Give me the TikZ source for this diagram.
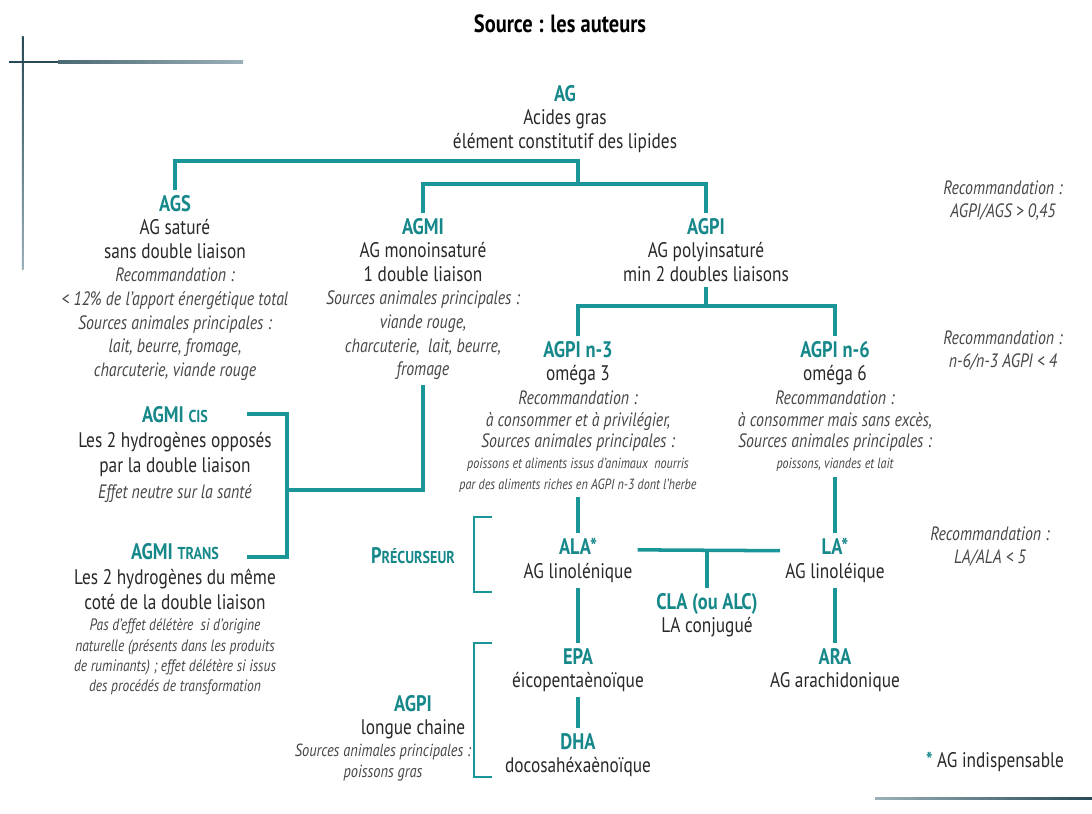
\documentclass[tikz,border=0pt]{standalone}
\usepackage{fontspec}
\setmainfont{PT Sans}[FakeStretch=0.82]
\usepackage{xcolor}
\usepackage{tikz}
\definecolor{agteal}{RGB}{22,136,138}
\definecolor{aglink}{RGB}{26,150,152}
\definecolor{agtext}{RGB}{40,40,40}
\definecolor{agnote}{RGB}{70,70,70}
\definecolor{decodark}{RGB}{40,74,86}
\definecolor{decolight}{RGB}{155,176,184}
\newcommand{\agSkip}{\lineskiplimit=-6pt\relax}
\newcommand{\agHd}{\fontsize{12.8}{13.4}\selectfont\bfseries\color{agteal}}
\newcommand{\agSc}{\fontsize{9.8}{13.4}\selectfont}
\newcommand{\agIt}{\fontsize{11}{13.4}\selectfont\itshape\color{agnote}}
\newcommand{\agMid}{\fontsize{9.4}{13.4}\selectfont\itshape\color{agnote}}
\newcommand{\agSm}{\fontsize{8.4}{13.4}\selectfont\itshape\color{agnote}}

\begin{document}
\begin{tikzpicture}[
    x=0.02cm, y=-0.02cm,
    fa/.style={anchor=north, align=center, inner sep=0pt, outer sep=3pt, text=agtext, font=\fontsize{12}{13.4}\selectfont\agSkip},
    big/.style={fa, font=\fontsize{12}{14.4}\selectfont\agSkip},
    rec/.style={fa, font=\fontsize{11}{13}\selectfont\itshape\agSkip, text=agnote},
    link/.style={draw=aglink, line width=2pt},
    brk/.style={draw=aglink, line width=1.5pt}
]
    \useasboundingbox (0,0) rectangle (1092,814);

    % decoration lines
    \shade[top color=decodark, bottom color=decolight] (21.8,37) rectangle (23.6,270);
    \fill[decodark] (9,61) rectangle (58,63.2);
    \shade[left color=decodark!70!decolight, right color=decolight] (58,61) rectangle (243,63.2);
    \shade[left color=decolight, right color=decodark] (875,797) rectangle (1092,799.2);

    % title
    \node[font=\fontsize{14.2}{16}\selectfont\bfseries, inner sep=0pt] (title) at (560,24) {Source : les auteurs};

    % Nodes - top levels
    \node[fa] (ag) at (565,80) {{\agHd AG}\\ Acides gras\\ élément constitutif des lipides};
    \node[fa] (ags) at (175,190) {{\agHd AGS}\\ AG saturé\\ sans double liaison\\
        {\agIt Recommandation :}\\ {\agIt < 12\% de l'apport énergétique total}\\
        {\agIt Sources animales principales :}\\ {\agIt lait, beurre, fromage,}\\
        {\agIt charcuterie, viande rouge}};
    \node[fa] (agmi) at (423,213) {{\agHd AGMI}\\ AG monoinsaturé\\ 1 double liaison\\
        {\agIt Sources animales principales :}\\ {\agIt viande rouge,}\\
        {\agIt charcuterie,~ lait, beurre,}\\ {\agIt fromage}};
    \node[fa] (agpi) at (706,213) {{\agHd AGPI}\\ AG polyinsaturé\\ min 2 doubles liaisons};

    % Nodes - omega
    \node[fa] (n3) at (578,336) {{\agHd AGPI n-3}\\ oméga 3\\ {\agIt Recommandation :}\\[-1pt]
        {\agIt à consommer et à privilégier,}\\[-1pt] {\agIt Sources animales principales :}\\[-1.5pt]
        {\agSm poissons et aliments issus d'animaux~ nourris}\\[-1.8pt]
        {\agSm par des aliments riches en AGPI n-3 dont l'herbe}};
    \node[fa] (n6) at (835,336) {{\agHd AGPI n-6}\\ oméga 6\\ {\agIt Recommandation :}\\[-1pt]
        {\agIt à consommer mais sans excès,}\\[-1pt] {\agIt Sources animales principales :}\\[-1.5pt]
        {\agSm poissons, viandes et lait}};

    % Nodes - AGMI cis / trans
    \node[big] (cis) at (175,401) {{\agHd AGMI {\agSc CIS}}\\ Les 2 hydrogènes opposés\\
        par la double liaison\\ {\agIt Effet neutre sur la santé}};
    \node[big] (trans) at (175,538) {{\agHd AGMI {\agSc TRANS}}\\ Les 2 hydrogènes du même\\
        coté de la double liaison\\[-2.5pt] {\agMid Pas d'effet délétère~ si d'origine}\\[-2.8pt]
        {\agMid naturelle (présents dans les produits}\\[-2.8pt]
        {\agMid de ruminants) ; effet délétère si issus}\\[-2.8pt]
        {\agMid des procédés de transformation}};

    % Nodes - precursors and long chain
    \node[fa, anchor=center] (prec) at (413,556) {{\agHd P\agSc RÉCURSEUR}};
    \node[fa] (ala) at (578,533) {{\agHd ALA*}\\ AG linolénique};
    \node[fa] (la) at (835,533) {{\agHd LA*}\\ AG linoléique};
    \node[fa] (cla) at (707,588) {{\agHd CLA (ou ALC)}\\ LA conjugué};
    \node[fa] (epa) at (578,643) {{\agHd EPA}\\ éicopentaènoïque};
    \node[fa] (dha) at (578,728) {{\agHd DHA}\\ docosahéxaènoïque};
    \node[fa] (ara) at (835,643) {{\agHd ARA}\\ AG arachidonique};
    \node[fa] (lc) at (413,690) {{\agHd AGPI}\\ longue chaine};
    \node[rec, font=\fontsize{10}{12}\selectfont\itshape] (lcnote) at (383,739) {Sources animales principales :\\ poissons gras};

    % Nodes - right column
    \node[rec] (rec1) at (1003,176) {Recommandation :\\ AGPI/AGS > 0,45};
    \node[rec] (rec2) at (1003,326) {Recommandation :\\ n-6/n-3 AGPI < 4};
    \node[rec] (rec3) at (990,522) {Recommandation :\\ LA/ALA < 5};
    \node[fa, anchor=center] (key) at (995,762) {{\color{agteal}\bfseries *} AG indispensable};

    % Tree connectors
    \coordinate (agbar) at (578,161);
    \coordinate (agsplit) at (578,184);
    \draw[link] (ags.north) |- (agbar) -- (agsplit);
    \draw[link] (agmi.north) |- (agsplit) -| (agpi.north);

    \coordinate (pisplit) at (706,306);
    \draw[link] (agpi.south) -- (pisplit);
    \draw[link] (n3.north) |- (pisplit) -| (n6.north);

    \coordinate (mijoin) at (287,490);
    \coordinate (cisarm) at (247,414);
    \coordinate (transarm) at (247,557);
    \draw[link] (agmi.south) |- (mijoin);
    \draw[link] (cisarm) -| (mijoin) |- (transarm);

    \draw[link] (n3.south) -- (ala.north);
    \draw[link] (n6.south) -- (la.north);
    \draw[link] (ala.10) -- (la.170);
    \draw[link] (cla.north) -- (cla.north |- ala.10);
    \draw[link] (ala.south) -- (epa.north);
    \draw[link] (epa.south) -- (dha.north);
    \draw[link] (la.south) -- (ara.north);

    % brackets
    \draw[brk] (492,517) -| (474,592) -- (492,592);
    \draw[brk] (492,643) -| (474,777) -- (492,777);
\end{tikzpicture}
\end{document}
